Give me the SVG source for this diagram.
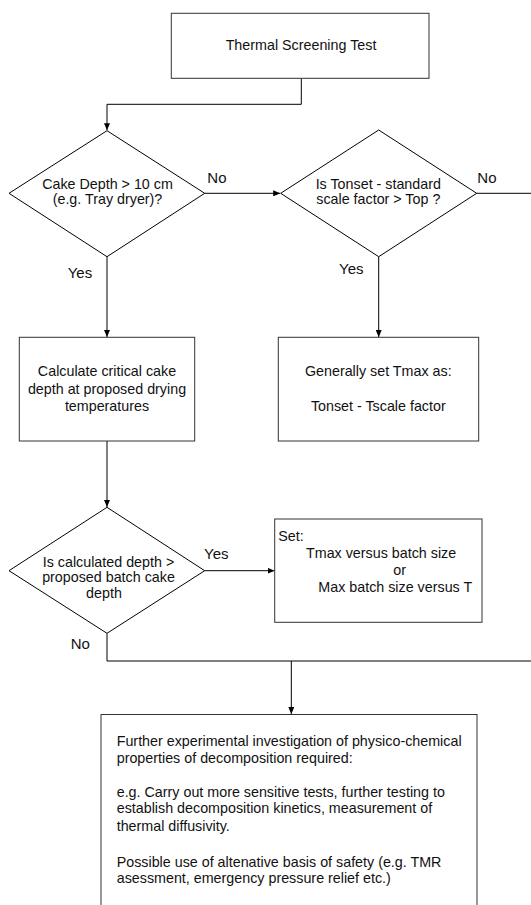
<svg xmlns="http://www.w3.org/2000/svg" width="531" height="905" viewBox="0 0 531 905">
<defs>
<marker id="arr" markerWidth="7" markerHeight="6" refX="7" refY="3" orient="auto" markerUnits="userSpaceOnUse">
<path d="M0,0 L7,3 L0,6 z" fill="#000"/>
</marker>
<style>
.box{fill:#fff;stroke:#333;stroke-width:1}
.dia{fill:#fff;stroke:#000;stroke-width:1}
.ln{fill:none;stroke:#000;stroke-width:1}
text{font-family:"Liberation Sans",Arial,sans-serif;font-size:14.3px;fill:#111}
.c{text-anchor:middle}
.lbl{font-size:15px}
</style>
</defs>
<rect width="531" height="905" fill="#fff"/>
<g id="connectors">
<path class="ln" d="M301.3,78.3 V104.3 H107 V130.2" marker-end="url(#arr)"/>
<path class="ln" d="M204.7,193.3 H280.2" marker-end="url(#arr)"/>
<path class="ln" d="M476.7,193.3 H531"/>
<path class="ln" d="M107,256.7 V337" marker-end="url(#arr)"/>
<path class="ln" d="M378.7,256.7 V337" marker-end="url(#arr)"/>
<path class="ln" d="M107,441 V507" marker-end="url(#arr)"/>
<path class="ln" d="M204.7,570.7 H274.5" marker-end="url(#arr)"/>
<path class="ln" d="M107,633.3 V661 H531"/>
<path class="ln" d="M291.3,661 V714" marker-end="url(#arr)"/>
<text class="lbl" x="207.3" y="182.7">No</text>
<text class="lbl" x="477.3" y="182.7">No</text>
<text class="lbl" x="67.7" y="277.7">Yes</text>
<text class="lbl" x="339" y="274">Yes</text>
<text class="lbl" x="204" y="558.7">Yes</text>
<text class="lbl" x="70.7" y="649">No</text>
</g>
<g id="start">
<rect class="box" x="171.3" y="13.3" width="257.7" height="65"/>
<text class="c" x="301" y="50">Thermal Screening Test</text>
</g>
<g id="dec1">
<polygon class="dia" points="107,130.7 204.7,193.3 107,256.7 9,193.3"/>
<text class="c" x="107.5" y="189">Cake Depth &gt; 10 cm</text>
<text class="c" x="107.5" y="204.3">(e.g. Tray dryer)?</text>
</g>
<g id="dec2">
<polygon class="dia" points="378.7,130 476.7,193.3 378.7,256.7 280.7,193.3"/>
<text class="c" x="378.3" y="189">Is Tonset - standard</text>
<text class="c" x="378.3" y="204.3">scale factor &gt; Top ?</text>
</g>
<g id="calc">
<rect class="box" x="19.3" y="337.3" width="175.4" height="103.7"/>
<text class="c" x="107" y="376">Calculate critical cake</text>
<text class="c" x="107" y="394">depth at proposed drying</text>
<text class="c" x="107" y="410.7">temperatures</text>
</g>
<g id="tmax">
<rect class="box" x="278.3" y="337.3" width="200.4" height="103.7"/>
<text class="c" x="378.3" y="376">Generally set Tmax as:</text>
<text class="c" x="378.3" y="410.7">Tonset - Tscale factor</text>
</g>
<g id="dec3">
<polygon class="dia" points="107,507.3 204.7,570.7 107,633.3 9,570.7"/>
<text class="c" x="108.5" y="566.7">Is calculated depth &gt;</text>
<text class="c" x="108.5" y="582">proposed batch cake</text>
<text class="c" x="104" y="597.7">depth</text>
</g>
<g id="set">
<rect class="box" x="274.7" y="519" width="207.3" height="103.3"/>
<text x="278.3" y="540.7">Set:</text>
<text x="306" y="557.7">Tmax versus batch size</text>
<text x="393.3" y="575">or</text>
<text x="318.3" y="591.7">Max batch size versus T</text>
</g>
<g id="further">
<rect class="box" x="101" y="714.5" width="376" height="200"/>
<text x="116.7" y="745.7">Further experimental investigation of physico-chemical</text>
<text x="116.7" y="762.7">properties of decomposition required:</text>
<text x="116.7" y="796.7">e.g. Carry out more sensitive tests, further testing to</text>
<text x="116.7" y="813.3">establish decomposition kinetics, measurement of</text>
<text x="116.7" y="831">thermal diffusivity.</text>
<text x="116.7" y="866.7">Possible use of altenative basis of safety (e.g. TMR</text>
<text x="116.7" y="883.3">asessment, emergency pressure relief etc.)</text>
</g>
</svg>
